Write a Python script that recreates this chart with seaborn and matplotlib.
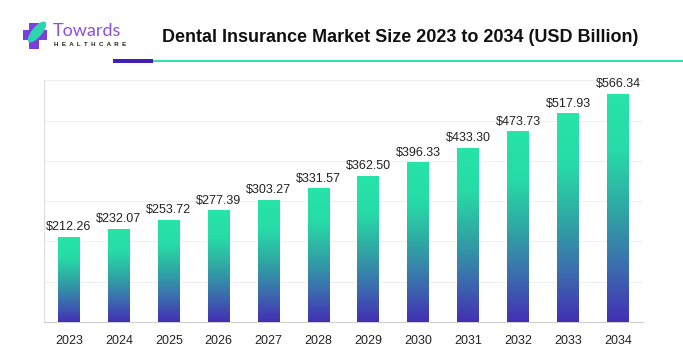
import numpy as np
import pandas as pd
import matplotlib
matplotlib.use("Agg")
import matplotlib.pyplot as plt
from matplotlib.colors import LinearSegmentedColormap
from matplotlib.patches import Rectangle, Ellipse
import seaborn as sns

years = ["2023", "2024", "2025", "2026", "2027", "2028", "2029", "2030", "2031", "2032", "2033", "2034"]
market_size = [212.26, 232.07, 253.72, 277.39, 303.27, 331.57, 362.50, 396.33, 433.30, 473.73, 517.93, 566.34]
value_labels = ["$212.26", "$232.07", "$253.72", "$277.39", "$303.27", "$331.57", "$362.50",
                "$396.33", "$433.30", "$473.73", "$517.93", "$566.34"]
title = "Dental Insurance Market Size 2023 to 2034 (USD Billion)"

sns.set_theme(style="white")
plt.rcParams["font.family"] = ["Liberation Sans", "DejaVu Sans"]

W, H = 683, 348
fig = plt.figure(figsize=(W / 100, H / 100), dpi=100)
fig.patch.set_facecolor("white")

# main plot area (pixel box 44..643 x 80..322)
ax = fig.add_axes([44 / W, 1 - 322 / H, (643 - 44) / W, (322 - 80.4) / H])
df = pd.DataFrame({"year": years, "size": market_size})
sns.barplot(data=df, x="year", y="size", ax=ax, width=0.44, color="white",
            edgecolor="none", errorbar=None)

ax.set_ylim(0, 600)
ax.set_yticks(np.arange(0, 601, 100))
ax.set_yticklabels([])
ax.tick_params(axis="y", length=0)
ax.yaxis.grid(True, color="#efefef", linewidth=0.8)
ax.set_axisbelow(True)
ax.set_xlabel("")
ax.set_ylabel("")
for side in ["top", "right"]:
    ax.spines[side].set_visible(False)
ax.spines["left"].set_color("#dddddd")
ax.spines["bottom"].set_color("#cfcfcf")
ax.spines["left"].set_linewidth(0.8)
ax.spines["bottom"].set_linewidth(0.8)
ax.tick_params(axis="x", length=0, labelsize=9, pad=9, colors="#222222")

# vertical gradient fill for each bar: green at top fading to indigo at the base
grad_cmap = LinearSegmentedColormap.from_list(
    "bar_grad", ["#4330b4", "#3b6fae", "#2fa9a4", "#27dba7", "#26e4a9"])
grad = np.linspace(0, 1, 256).reshape(-1, 1)
for patch, lab in zip(ax.patches, value_labels):
    x0, y0 = patch.get_x(), patch.get_y()
    w, h = patch.get_width(), patch.get_height()
    im = ax.imshow(grad, cmap=grad_cmap, aspect="auto", origin="lower",
                   extent=[x0, x0 + w, y0, y0 + h], zorder=3)
    im.set_clip_path(patch)
    ax.text(x0 + w / 2, y0 + h + 9, lab, ha="center", va="bottom",
            fontsize=9, color="#222222", zorder=4)
ax.set_xlim(-0.5, len(years) - 0.5)
ax.set_ylim(0, 600)

# header overlay in pixel coordinates
hdr = fig.add_axes([0, 0, 1, 1], zorder=-1)
hdr.set_xlim(0, W)
hdr.set_ylim(H, 0)
hdr.axis("off")

hdr.text(400, 37.5, title, ha="center", va="center", fontsize=13,
         fontweight="bold", color="#111111")
hdr.add_patch(Rectangle((153, 60), W - 153, 2.2, color="#2fe0b0", lw=0))
hdr.add_patch(Rectangle((113, 59), 40, 4.2, color="#3f1fb8", lw=0))

# logo: purple cross with a green leaf, wordmark beside it
purple = "#7b3fe0"
hdr.add_patch(Rectangle((29, 23), 10, 26, color=purple, lw=0))
hdr.add_patch(Rectangle((22.5, 30), 24, 10, color=purple, lw=0))
hdr.add_patch(Ellipse((37, 32), 10, 26, angle=40, color="#2ed3b0", lw=0))
hdr.text(53, 31, "Towards", ha="left", va="center", fontsize=13,
         color="#8a4fe6", family="Lato")
hdr.text(54, 44.5, "H  E  A  L  T  H  C  A  R  E", ha="left", va="center", fontsize=4.4,
         fontweight="bold", color="#222222")

fig.savefig("out.png", dpi=100, facecolor="white")
